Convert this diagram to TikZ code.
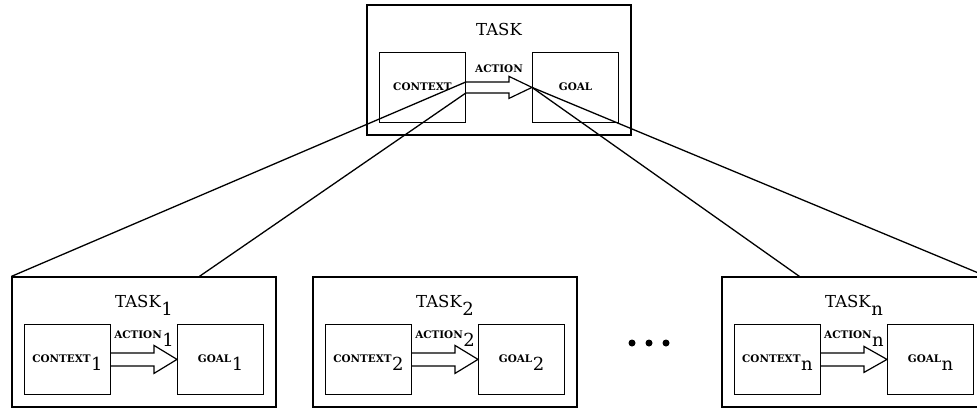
\documentclass[tikz,border=0pt]{standalone}
\usepackage{fontspec}
\setmainfont{DejaVu Serif}
\usetikzlibrary{calc}

\tikzset{
  every picture/.style={x=1pt,y=-1pt},
  frame/.style={draw, line width=1.2pt, minimum width=264pt, minimum height=130pt, inner sep=0pt},
  inbox/.style={draw, line width=1.2pt, minimum width=86pt, minimum height=70pt, inner sep=0pt},
  link/.style={line width=1.3pt},
  hollow/.style={line width=1.2pt, line join=miter},
  tasklabel/.style={font=\fontsize{16.5}{16.5}\selectfont, anchor=base, inner sep=0pt},
  partlabel/.style={font=\bfseries\fontsize{10.4}{10.4}\selectfont, anchor=base, inner sep=0pt},
  dotmark/.style={circle, fill, minimum size=7pt, inner sep=0pt},
}

% lowered index as set beside the labels
\newcommand\idx[1]{\kern0.5pt\raisebox{-8pt}{\mdseries\fontsize{18}{18}\selectfont #1}}

% one task: frame, context box, goal box and the hollow action arrow
% #1 name, #2 #3 centre, #4 index, #5 shaft half height, #6 head half height,
% #7 height of the action label above the arrow
\newcommand\taskunit[7]{%
  \node[frame] (#1) at (#2,#3) {};
  \node[tasklabel] (#1-title) at ($(#1.north)+(0,31)$) {TASK#4};
  \node[inbox] (#1-ctx) at ($(#1.north west)+(56,83)$) {};
  \node[inbox] (#1-goal) at ($(#1.north east)+(-56,83)$) {};
  \node[partlabel] (#1-ctxlabel) at ($(#1-ctx.center)+(0,3.5)$) {CONTEXT#4};
  \node[partlabel] (#1-goallabel) at ($(#1-goal.center)+(0,3.5)$) {GOAL#4};
  \coordinate (#1-s1) at ($(#1-ctx.east)+(0,-#5)$);
  \coordinate (#1-s2) at ($(#1-ctx.east)+(0,#5)$);
  \coordinate (#1-tip) at (#1-goal.west);
  \draw[hollow] (#1-s1) -- ($(#1-tip)+(-23,-#5)$) -- ($(#1-tip)+(-23,-#6)$)
    -- (#1-tip) -- ($(#1-tip)+(-23,#6)$) -- ($(#1-tip)+(-23,#5)$) -- (#1-s2);
  \node[partlabel] (#1-actlabel) at ($($(#1-ctx.east)!0.5!(#1-tip)$)+(0,-#7)$) {ACTION#4};
}

\begin{document}
\begin{tikzpicture}
  \useasboundingbox (0,0) rectangle (977,410);
  \clip (0,0) rectangle (977,410);

  \taskunit{T}{499}{70}{}{5.5}{11}{15}
  \taskunit{T1}{144}{342}{\idx{1}}{6.5}{14}{21}
  \taskunit{T2}{445}{342}{\idx{2}}{6.5}{14}{21}
  \taskunit{Tn}{854}{342}{\idx{n}}{6.5}{13}{21}

  \node[dotmark] (dot1) at (632,343) {};
  \node[dotmark] (dot2) at (649,343) {};
  \node[dotmark] (dot3) at (666,343) {};

  % decomposition links from the parent task to its subtasks
  \coordinate (T1-hook) at ($(T1.north west)+(188,0)$);
  \coordinate (Tn-hook) at ($(Tn.north west)+(78,0)$);
  \draw[link] (T-s1) -- (T1.north west);
  \draw[link] (T-s2) -- (T1-hook);
  \draw[link] (T-tip) -- (Tn-hook);
  \draw[link] (T-tip) -- (Tn.north east);
\end{tikzpicture}
\end{document}
